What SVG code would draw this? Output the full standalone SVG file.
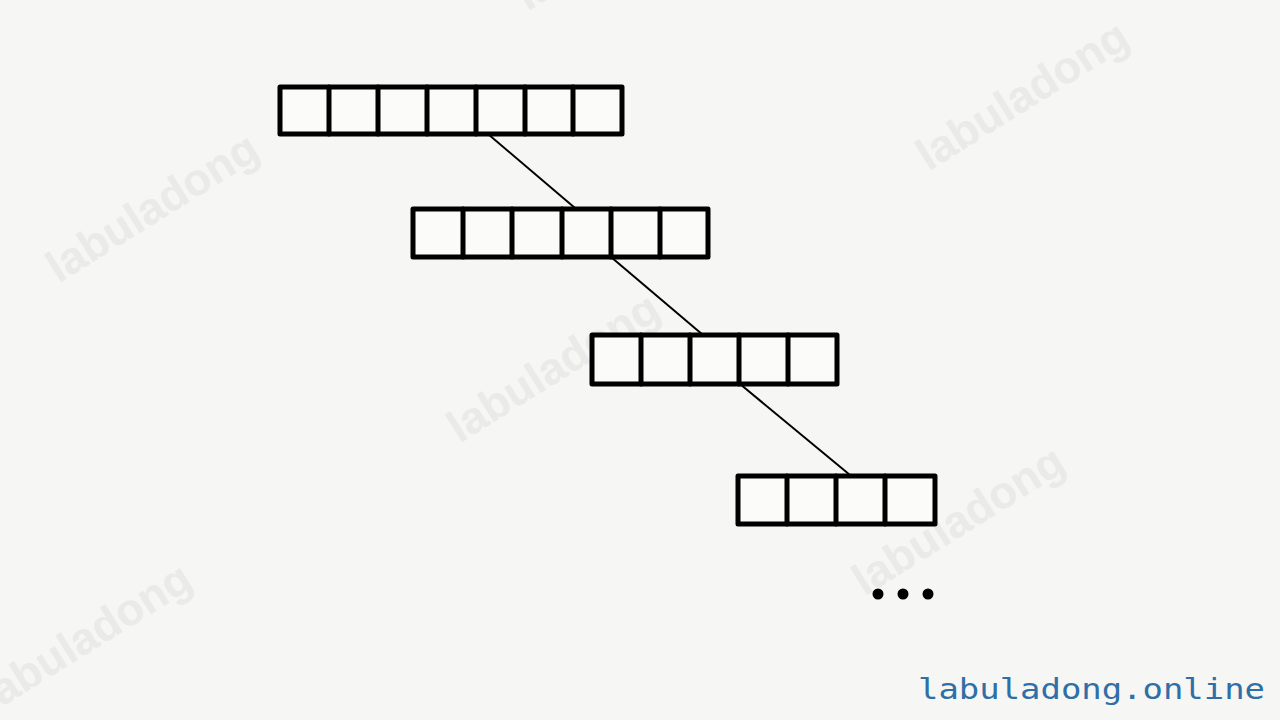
<svg xmlns="http://www.w3.org/2000/svg" width="1280" height="720" viewBox="0 0 1280 720">
  <style>
    .cell { fill: #fbfbfa; stroke: #000; stroke-width: 5; stroke-linejoin: round; }
    .sep { stroke: #000; stroke-width: 5; stroke-linecap: round; }
    .conn { stroke: #000; stroke-width: 2; fill: none; }
    .wm { font-family: "Liberation Sans", Arial, sans-serif; font-weight: bold; font-size: 45px; fill: #eaeae8; text-anchor: middle; dominant-baseline: central; }
    .site { font-family: "DejaVu Sans Mono", "Liberation Mono", monospace; font-size: 28px; fill: #2f6fa7; }
  </style>
  <rect x="0" y="0" width="1280" height="720" fill="#f6f6f4"/>

  <g id="watermarks">
    <text class="wm" transform="translate(152,207) rotate(-32)">labuladong</text>
    <text class="wm" transform="translate(553,367) rotate(-32)">labuladong</text>
    <text class="wm" transform="translate(1022,95) rotate(-32)">labuladong</text>
    <text class="wm" transform="translate(958,520) rotate(-32)">labuladong</text>
    <text class="wm" transform="translate(85,637) rotate(-32)">labuladong</text>
    <text class="wm" transform="translate(621,-65) rotate(-32)">labuladong</text>
  </g>

  <g id="connectors">
    <line class="conn" x1="488" y1="134" x2="575" y2="208"/>
    <line class="conn" x1="611" y1="257" x2="703" y2="335"/>
    <line class="conn" x1="740" y1="384" x2="850" y2="475"/>
  </g>

  <g id="array1">
    <rect class="cell" x="280" y="87" width="342" height="47"/>
    <line class="sep" x1="329" y1="87" x2="329" y2="134"/>
    <line class="sep" x1="378" y1="87" x2="378" y2="134"/>
    <line class="sep" x1="427" y1="87" x2="427" y2="134"/>
    <line class="sep" x1="476" y1="87" x2="476" y2="134"/>
    <line class="sep" x1="525" y1="87" x2="525" y2="134"/>
    <line class="sep" x1="573" y1="87" x2="573" y2="134"/>
  </g>

  <g id="array2">
    <rect class="cell" x="413" y="209" width="295" height="48"/>
    <line class="sep" x1="463" y1="209" x2="463" y2="257"/>
    <line class="sep" x1="512" y1="209" x2="512" y2="257"/>
    <line class="sep" x1="562" y1="209" x2="562" y2="257"/>
    <line class="sep" x1="611" y1="209" x2="611" y2="257"/>
    <line class="sep" x1="660" y1="209" x2="660" y2="257"/>
  </g>

  <g id="array3">
    <rect class="cell" x="592" y="335" width="245" height="49"/>
    <line class="sep" x1="641" y1="335" x2="641" y2="384"/>
    <line class="sep" x1="690" y1="335" x2="690" y2="384"/>
    <line class="sep" x1="739" y1="335" x2="739" y2="384"/>
    <line class="sep" x1="788" y1="335" x2="788" y2="384"/>
  </g>

  <g id="array4">
    <rect class="cell" x="738" y="476" width="197" height="48"/>
    <line class="sep" x1="787" y1="476" x2="787" y2="524"/>
    <line class="sep" x1="836" y1="476" x2="836" y2="524"/>
    <line class="sep" x1="885" y1="476" x2="885" y2="524"/>
  </g>

  <g id="ellipsis">
    <circle cx="878" cy="594" r="5.5" fill="#000"/>
    <circle cx="903" cy="594" r="5.5" fill="#000"/>
    <circle cx="928" cy="594" r="5.5" fill="#000"/>
  </g>

  <g id="site-label">
    <text class="site" x="918" y="699" textLength="347" lengthAdjust="spacingAndGlyphs">labuladong.online</text>
  </g>
</svg>
